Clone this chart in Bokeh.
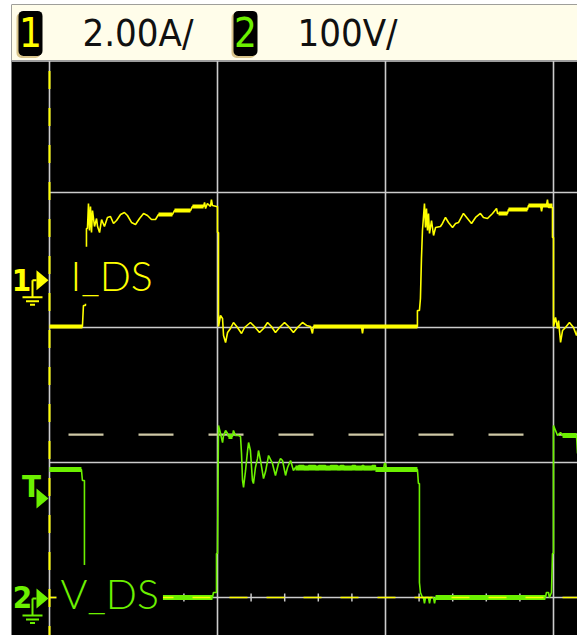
import numpy as np
from bokeh.plotting import figure
from bokeh.models import Range1d, Label
from bokeh.embed import file_html
from bokeh.resources import INLINE

# ---------------- channel settings ----------------
ch1_name = "I_DS"
ch1_scale = 2.0        # A / div
ch1_pos = 2.35         # marker position (div)
ch2_name = "V_DS"
ch2_scale = 100.0      # V / div
ch2_pos = 0.0          # marker position (div)
trig_level_v = 120.7   # V (channel 2)
trig_marker_div = 0.733
header_scale_texts = ["2.00A/", "100V/"]
header_channels = ["1", "2"]
grid_x = [0, 1, 2, 3]
grid_y = [0, 1, 2, 3]

# ---------------- channel 1 : drain current (time in div, current in A) ----------------
i_t = [0.000, 0.196, 0.202, 0.214, 0.220, 0.220, 0.226, 0.232, 0.238, 0.244, 0.250, 0.256,
       0.268, 0.280, 0.286, 0.298, 0.310, 0.327, 0.345, 0.363, 0.381, 0.399, 0.423, 0.446,
       0.464, 0.488, 0.512, 0.536, 0.560, 0.583, 0.607, 0.631, 0.649, 0.732, 0.744, 0.839,
       0.851, 0.917, 0.923, 0.929, 0.940, 0.958, 0.964, 0.970, 0.994, 1.000, 1.000, 1.006,
       1.006, 1.018, 1.030, 1.036, 1.048, 1.060, 1.077, 1.095, 1.119, 1.143, 1.161, 1.196,
       1.220, 1.250, 1.274, 1.298, 1.321, 1.345, 1.369, 1.399, 1.423, 1.452, 1.476, 1.506,
       1.530, 1.554, 1.565, 1.571, 1.857, 1.863, 1.869, 2.190, 2.190, 2.202, 2.208, 2.214,
       2.220, 2.232, 2.238, 2.244, 2.250, 2.256, 2.262, 2.274, 2.286, 2.298, 2.327, 2.339,
       2.357, 2.375, 2.399, 2.417, 2.435, 2.464, 2.488, 2.512, 2.536, 2.565, 2.583, 2.607,
       2.637, 2.661, 2.667, 2.726, 2.732, 2.845, 2.851, 2.923, 2.929, 2.935, 2.958, 2.964,
       2.970, 2.994, 2.994, 3.000, 3.000, 3.012, 3.024, 3.030, 3.042, 3.054, 3.071, 3.095,
       3.119, 3.137, 3.143]
i_a = [-0.685, -0.685, -0.374, -0.374, 0.367, 0.767, 0.767, 1.137, 0.737, 1.093, 0.707, 1.033,
       0.796, 0.915, 0.796, 0.707, 0.900, 0.796, 0.930, 0.944, 0.841, 0.885, 0.974, 1.004,
       0.959, 0.856, 0.826, 0.915, 0.989, 0.959, 0.900, 0.900, 0.974, 0.974, 1.033, 1.033,
       1.093, 1.093, 1.152, 1.063, 1.137, 1.093, 1.196, 1.107, 1.093, 1.093, 0.707, 0.707,
       -0.685, -0.522, -0.567, -0.819, -0.922, -0.774, -0.715, -0.626, -0.700, -0.789, -0.700, -0.626,
       -0.685, -0.774, -0.715, -0.626, -0.685, -0.774, -0.700, -0.626, -0.685, -0.774, -0.700, -0.626,
       -0.670, -0.685, -0.789, -0.685, -0.685, -0.789, -0.685, -0.685, -0.448, -0.448, -0.270, 0.322,
       0.737, 1.137, 0.781, 1.063, 0.737, 0.989, 0.693, 0.885, 0.663, 0.781, 0.796, 0.841,
       0.930, 0.856, 0.781, 0.841, 0.856, 0.989, 0.915, 0.841, 0.930, 0.989, 0.930, 0.915,
       0.989, 1.063, 0.989, 0.989, 1.048, 1.048, 1.107, 1.107, 1.019, 1.107, 1.107, 1.196,
       1.078, 1.078, 0.633, 0.633, -0.685, -0.552, -0.715, -0.596, -0.922, -0.744, -0.700, -0.626,
       -0.700, -0.819, -0.744]
# noise-band plateaus of channel 1 (start, end, level A)
i_band_t0 = [0.000, 0.649, 0.744, 0.851, 1.571, 2.673, 2.732, 2.851]
i_band_t1 = [0.196, 0.732, 0.839, 0.917, 2.190, 2.726, 2.845, 2.994]
i_band_a = [-0.685, 0.974, 1.033, 1.093, -0.685, 0.989, 1.048, 1.107]

# ---------------- channel 2 : drain voltage (time in div, voltage in V) ----------------
v_t = [0.000, 0.190, 0.196, 0.208, 0.208, 0.220, 0.970, 0.976, 0.994, 0.994, 1.000, 1.006,
       1.018, 1.030, 1.036, 1.048, 1.060, 1.065, 1.089, 1.095, 1.107, 1.125, 1.137, 1.143,
       1.149, 1.155, 1.167, 1.179, 1.185, 1.196, 1.208, 1.214, 1.226, 1.238, 1.244, 1.256,
       1.274, 1.286, 1.304, 1.327, 1.345, 1.363, 1.375, 1.387, 1.405, 1.417, 1.435, 1.452,
       1.464, 1.484, 1.484, 1.514, 1.514, 1.543, 1.543, 1.583, 1.583, 1.603, 1.603, 1.643,
       1.643, 1.673, 1.673, 1.713, 1.713, 1.732, 1.732, 1.752, 1.752, 1.802, 1.802, 1.821,
       1.821, 1.861, 1.861, 1.871, 1.871, 1.921, 1.921, 1.940, 1.940, 1.988, 1.994, 2.000,
       2.006, 2.190, 2.196, 2.202, 2.202, 2.208, 2.220, 2.226, 2.232, 2.238, 2.256, 2.262,
       2.268, 2.286, 2.292, 2.298, 2.952, 2.958, 2.970, 2.976, 2.988, 2.994, 3.000, 3.000,
       3.012, 3.024, 3.042, 3.054, 3.137, 3.143]
v_v = [94.8, 94.8, 86.7, 86.7, 17.8, 0.0, 0.0, 3.7, 3.7, 32.6, 32.6, 127.4,
       121.5, 114.8, 120.0, 123.7, 121.5, 119.3, 119.3, 123.7, 120.0, 120.0, 119.3, 106.7,
       86.7, 81.5, 94.1, 108.9, 114.8, 108.9, 86.7, 84.4, 96.3, 103.0, 108.9, 101.5,
       88.1, 93.3, 105.2, 99.3, 90.4, 99.3, 103.0, 101.5, 90.4, 96.3, 101.5, 94.1,
       96.3, 94.8, 97.8, 97.8, 94.8, 94.8, 97.8, 97.8, 94.8, 94.8, 97.8, 97.8,
       94.8, 94.8, 97.8, 97.8, 94.8, 94.8, 97.8, 97.8, 94.8, 94.8, 97.8, 97.8,
       94.8, 94.8, 97.8, 97.8, 94.8, 94.8, 97.8, 97.8, 94.8, 94.8, 99.3, 99.3,
       94.8, 94.8, 84.4, 84.4, 11.1, 3.7, 0.0, 0.0, -4.4, 0.0, 0.0, -4.4,
       0.0, 0.0, -4.4, 0.0, 0.0, 3.7, 3.7, 0.0, 3.7, 32.6, 32.6, 127.4,
       123.7, 120.0, 122.2, 120.0, 120.0, 106.7]
# noise-band plateaus of channel 2 (start, end, level V)
v_band_t0 = [0.000, 0.661, 1.065, 1.464, 1.940, 2.298, 3.054]
v_band_t1 = [0.190, 0.970, 1.089, 1.940, 2.190, 2.952, 3.137]
v_band_v = [94.8, 0.0, 119.3, 96.0, 94.8, 0.0, 120.0]

# ---------------- styling ----------------
YEL = "#ffff00"
GRN = "#6cf000"
GRID = "#cccccc"
CREAM = "#fffdea"
TAN = "#d9c48a"
BEIGE = "#cfc9a6"
NARROW = "'Liberation Sans Narrow', 'DejaVu Sans Condensed', Roboto, sans-serif"
THIN = "'Lato Light', 'Lato', sans-serif"
PX = 1.0 / 168.0   # div per screen pixel (x)
PY = 1.0 / 135.0   # div per screen pixel (y)

x_lo, x_hi = -38 * PX, 528 * PX
y_lo, y_hi = -38 * PY, 593 * PY
screen_top = 3.975

p = figure(width=577, height=635, x_range=Range1d(x_lo, x_hi), y_range=Range1d(y_lo, y_hi),
           output_backend="svg", toolbar_location=None,
           x_axis_location=None, y_axis_location=None,
           min_border_left=11, min_border_right=0, min_border_top=4, min_border_bottom=0,
           background_fill_color="black", border_fill_color="white", outline_line_color=None)
p.grid.visible = False

# header band
p.quad(left=[x_lo], right=[x_hi], bottom=[screen_top], top=[y_hi], fill_color=CREAM, line_color=None)
p.segment(x0=[x_lo], y0=[screen_top], x1=[x_hi], y1=[screen_top], line_color="#9c9c9c", line_width=2)

# channel badges in the header
badge_left = [-31 * PX, 184 * PX]
badge_w = 24 * PX
badge_bottom, badge_top = screen_top + 5 * PY, screen_top + 50 * PY
p.quad(left=[b - 2 * PX for b in badge_left], right=[b + badge_w - 2 * PX for b in badge_left],
       bottom=[badge_bottom - 2 * PY] * 2, top=[badge_top - 2 * PY] * 2,
       fill_color=TAN, line_color=None, border_radius=5)
p.quad(left=badge_left, right=[b + badge_w for b in badge_left],
       bottom=[badge_bottom] * 2, top=[badge_top] * 2,
       fill_color="black", line_color=None, border_radius=5)
for bl, ch, col in zip(badge_left, header_channels, [YEL, GRN]):
    p.add_layout(Label(x=bl + badge_w / 2, y=badge_bottom + 11 * PY, text=ch, text_align="center",
                       text_baseline="alphabetic", text_color=col, text_font=NARROW,
                       text_font_size="40px", y_offset=13))
for bl, txt in zip(badge_left, header_scale_texts):
    p.add_layout(Label(x=bl + 64 * PX, y=badge_bottom + 10 * PY, text=txt, text_align="left",
                       text_baseline="alphabetic", text_color="#101010",
                       text_font=NARROW, text_font_size="38px", y_offset=13))

# graticule
p.segment(x0=grid_x, y0=[y_lo] * len(grid_x), x1=grid_x, y1=[screen_top] * len(grid_x),
          line_color=GRID, line_width=1.6)
p.segment(x0=[0] * len(grid_y), y0=grid_y, x1=[x_hi] * len(grid_y), y1=grid_y,
          line_color=GRID, line_width=1.6)
minor = [k / 5 for k in range(1, 16) if k % 5]
p.segment(x0=minor, y0=[-4 * PY] * len(minor), x1=minor, y1=[4 * PY] * len(minor),
          line_color=GRID, line_width=1.5)

# trigger level (channel 2)
trig_y = ch2_pos + trig_level_v / ch2_scale
p.segment(x0=[19 * PX], y0=[trig_y], x1=[x_hi], y1=[trig_y], line_color=BEIGE, line_width=2.2,
          line_dash="35 35")

# yellow dashed reference line at t = 0
p.segment(x0=[0], y0=[screen_top], x1=[0], y1=[y_lo], line_color=YEL, line_width=2,
          line_dash="18 19", line_dash_offset=27)

# traces
i_y = ch1_pos + np.array(i_a) / ch1_scale
v_y = ch2_pos + np.array(v_v) / ch2_scale
p.line(i_t, i_y, line_color=YEL, line_width=1.6)
p.segment(x0=i_band_t0, y0=ch1_pos + np.array(i_band_a) / ch1_scale,
          x1=i_band_t1, y1=ch1_pos + np.array(i_band_a) / ch1_scale, line_color=YEL, line_width=4)
p.line(v_t, v_y, line_color=GRN, line_width=1.6)
p.segment(x0=v_band_t0, y0=ch2_pos + np.array(v_band_v) / ch2_scale,
          x1=v_band_t1, y1=ch2_pos + np.array(v_band_v) / ch2_scale, line_color=GRN, line_width=5)

# yellow dashed line along channel-2 ground
p.segment(x0=[0], y0=[ch2_pos], x1=[x_hi], y1=[ch2_pos], line_color=YEL, line_width=1.3,
          line_dash="18 19", line_dash_offset=5)

# channel markers (arrows) at the left edge
marker_y = [ch1_pos, trig_marker_div, ch2_pos - 1 * PY]
marker_col = [YEL, GRN, GRN]
p.patches(xs=[[-13 * PX, -1 * PX, -13 * PX] for _ in marker_y],
          ys=[[m + 10 * PY, m, m - 10 * PY] for m in marker_y],
          fill_color=marker_col, line_color=None)
gx, gy, gc = [], [], []
for m, c in [(ch1_pos, YEL), (ch2_pos - 1 * PY, GRN)]:
    gx += [[-17 * PX, -17 * PX], [-17 * PX, -13 * PX], [-27 * PX, -7 * PX],
           [-23.5 * PX, -10.5 * PX], [-19.5 * PX, -14.5 * PX]]
    gy += [[m, m - 17 * PY], [m, m], [m - 17 * PY] * 2, [m - 21 * PY] * 2, [m - 24.5 * PY] * 2]
    gc += [c] * 5
p.multi_line(xs=gx, ys=gy, line_color=gc, line_width=2)
for txt, m, c, dy, dx in [("1", ch1_pos, YEL, -10, -28), ("T", trig_marker_div, GRN, 3, -18),
                          ("2", ch2_pos, GRN, -9, -27)]:
    p.add_layout(Label(x=dx * PX, y=m + dy * PY, text=txt, text_align="center",
                       text_baseline="alphabetic", text_color=c, text_font=NARROW,
                       text_font_size="31px", text_font_style="bold", y_offset=10))

# channel labels (drawn over the traces with a black box)
for txt, m, c, x0, dy in [(ch1_name, ch1_pos, YEL, 17, -12), (ch2_name, ch2_pos, GRN, 7, -13)]:
    p.add_layout(Label(x=x0 * PX, y=m + dy * PY, text=txt, text_align="left",
                       text_baseline="alphabetic", text_color=c, text_font=THIN,
                       text_font_size="41px", background_fill_color="black", padding=4,
                       y_offset=17))

open("out.html", "w").write(file_html(p, INLINE))
